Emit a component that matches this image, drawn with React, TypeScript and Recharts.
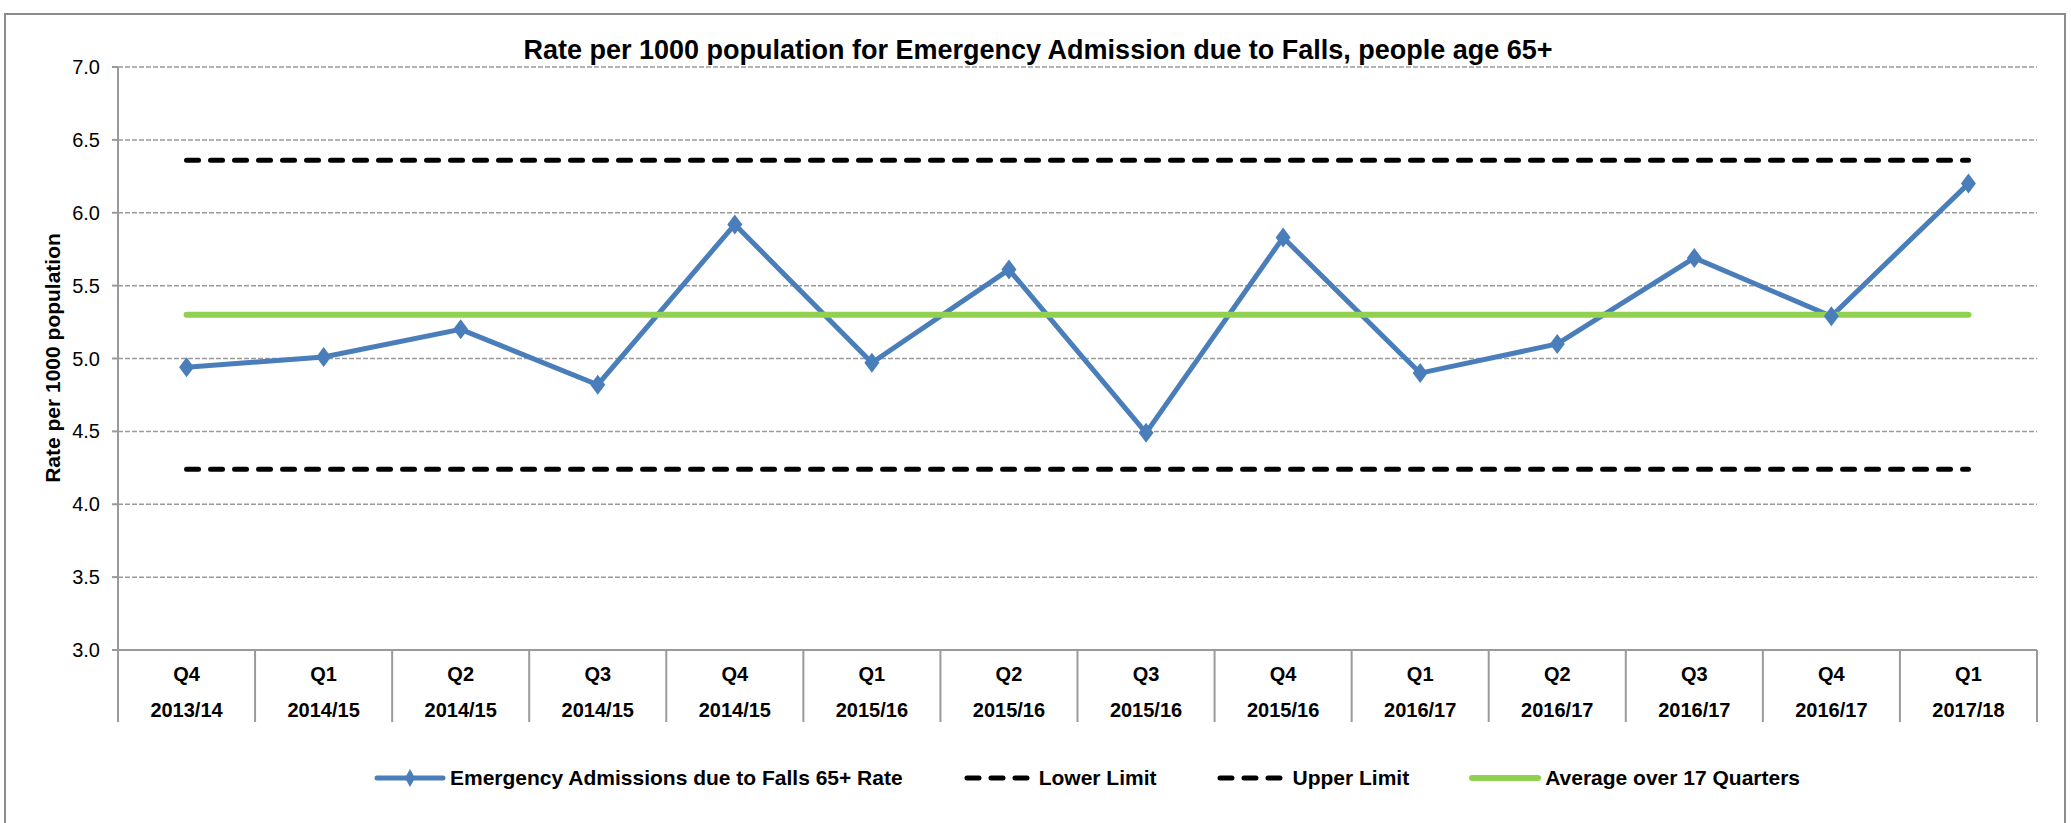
import React from 'react';
import { LineChart, Line, XAxis, YAxis, CartesianGrid, Legend } from 'recharts';

const QUARTERS = ['Q4', 'Q1', 'Q2', 'Q3', 'Q4', 'Q1', 'Q2', 'Q3', 'Q4', 'Q1', 'Q2', 'Q3', 'Q4', 'Q1'];
const YEARS = ['2013/14', '2014/15', '2014/15', '2014/15', '2014/15', '2015/16', '2015/16', '2015/16', '2015/16', '2016/17', '2016/17', '2016/17', '2016/17', '2017/18'];
const RATE = [4.94, 5.01, 5.2, 4.82, 5.92, 4.97, 5.61, 4.49, 5.83, 4.9, 5.1, 5.69, 5.29, 6.2];
const LOWER_LIMIT = 4.24;
const UPPER_LIMIT = 6.36;
const AVERAGE = 5.3;
const Y_TICKS = [3.0, 3.5, 4.0, 4.5, 5.0, 5.5, 6.0, 6.5, 7.0];
const TITLE = 'Rate per 1000 population for Emergency Admission due to Falls, people age 65+';
const Y_TITLE = 'Rate per 1000 population';
const NAME_RATE = 'Emergency Admissions due to Falls 65+ Rate';
const NAME_LOWER = 'Lower Limit';
const NAME_UPPER = 'Upper Limit';
const NAME_AVG = 'Average over 17 Quarters';
const LEGEND_ORDER = ['rate', 'lower', 'upper', 'avg'];

const data = QUARTERS.map((q, i) => ({
  period: `${q} ${YEARS[i]}`,
  rate: RATE[i],
  lower: LOWER_LIMIT,
  upper: UPPER_LIMIT,
  avg: AVERAGE,
}));

const FONT = '"Liberation Sans", Arial, sans-serif';
const BLUE = '#4A7EBB';
const GREEN = '#92D050';
const GRAY = '#9a9a9a';

const W = 2071;
const H = 823;
const MARGIN = { top: 67, right: 34, bottom: 83, left: 38 };
const Y_AXIS_W = 80;
const X_AXIS_H = 90;
const PLOT_W = W - MARGIN.left - MARGIN.right - Y_AXIS_W;
const BAND = PLOT_W / QUARTERS.length;

const XTick = (props: any) => {
  const { x, y, payload } = props;
  const i = payload.index;
  return (
    <g>
      <line x1={x - BAND / 2} x2={x - BAND / 2} y1={y} y2={y + 72} stroke={GRAY} strokeWidth={2} />
      {i === QUARTERS.length - 1 && (
        <line x1={x + BAND / 2} x2={x + BAND / 2} y1={y} y2={y + 72} stroke={GRAY} strokeWidth={2} />
      )}
      <text x={x} y={y + 24} textAnchor="middle" dominantBaseline="central" fontFamily={FONT} fontWeight="bold" fontSize={20} fill="#000">
        {QUARTERS[i]}
      </text>
      <text x={x} y={y + 60} textAnchor="middle" dominantBaseline="central" fontFamily={FONT} fontWeight="bold" fontSize={20} fill="#000">
        {YEARS[i]}
      </text>
    </g>
  );
};

const Diamond = (props: any) => {
  const { cx, cy, index } = props;
  if (cx == null || cy == null) return <g key={index} />;
  return (
    <path key={index} d={`M${cx},${cy - 10} L${cx + 7.5},${cy} L${cx},${cy + 10} L${cx - 7.5},${cy} Z`} fill={BLUE} />
  );
};

const Sample = ({ kind }: { kind: string }) => {
  if (kind === 'rate') {
    return (
      <svg width={72} height={24}>
        <line x1={3} x2={69} y1={12} y2={12} stroke={BLUE} strokeWidth={5} strokeLinecap="round" />
        <path d="M36,3 L41,12 L36,21 L31,12 Z" fill={BLUE} />
      </svg>
    );
  }
  if (kind === 'avg') {
    return (
      <svg width={72} height={24}>
        <line x1={3} x2={69} y1={12} y2={12} stroke={GREEN} strokeWidth={6} strokeLinecap="round" />
      </svg>
    );
  }
  return (
    <svg width={72} height={24}>
      <line x1={4} x2={66} y1={12} y2={12} stroke="#000" strokeWidth={5} strokeDasharray="12 12" strokeLinecap="round" />
    </svg>
  );
};

const renderLegend = (props: any) => {
  const payload = [...(props.payload || [])].sort(
    (a: any, b: any) => LEGEND_ORDER.indexOf(a.dataKey) - LEGEND_ORDER.indexOf(b.dataKey)
  );
  return (
    <div style={{ display: 'flex', alignItems: 'center', fontFamily: FONT, fontWeight: 'bold', fontSize: 21, color: '#000', whiteSpace: 'nowrap' }}>
      {payload.map((p: any, i: number) => (
        <div key={i} style={{ display: 'flex', alignItems: 'center', marginRight: i < payload.length - 1 ? 60 : 0 }}>
          <Sample kind={p.dataKey} />
          <span style={{ marginLeft: 4 }}>{p.value}</span>
        </div>
      ))}
    </div>
  );
};

export default function App() {
  return (
    <div style={{ position: 'absolute', left: 0, top: 0, width: W, height: H, overflow: 'hidden', background: '#fff', fontFamily: FONT }}>
      <div style={{ position: 'absolute', left: 4, top: 13, width: 2062, height: 900, border: '2px solid #8c8c8c', boxSizing: 'border-box' }} />
      <div style={{ position: 'absolute', left: 1038, top: 50, transform: 'translate(-50%, -50%)', whiteSpace: 'nowrap', fontWeight: 'bold', fontSize: 27, color: '#000' }}>
        {TITLE}
      </div>
      <div style={{ position: 'absolute', left: 53, top: 358, transform: 'translate(-50%, -50%) rotate(-90deg)', whiteSpace: 'nowrap', fontWeight: 'bold', fontSize: 21, color: '#000' }}>
        {Y_TITLE}
      </div>
      <div style={{ position: 'absolute', left: 0, top: 0 }}>
        <LineChart width={W} height={H} data={data} margin={MARGIN}>
          <CartesianGrid vertical={false} stroke={GRAY} strokeDasharray="5 2" strokeWidth={1.5} />
          <XAxis
            dataKey="period"
            scale="band"
            interval={0}
            height={X_AXIS_H}
            tickLine={false}
            tickSize={0}
            tickMargin={0}
            axisLine={{ stroke: GRAY, strokeWidth: 2 }}
            tick={<XTick />}
          />
          <YAxis
            type="number"
            domain={[3, 7]}
            ticks={Y_TICKS}
            interval={0}
            width={Y_AXIS_W}
            tickSize={6}
            tickMargin={12}
            tickFormatter={(v: number) => v.toFixed(1)}
            axisLine={{ stroke: GRAY, strokeWidth: 2 }}
            tickLine={{ stroke: GRAY, strokeWidth: 2 }}
            tick={{ fontFamily: FONT, fontSize: 20, fill: '#000' }}
          />
          <Line
            dataKey="rate"
            name={NAME_RATE}
            stroke={BLUE}
            strokeWidth={5}
            dot={Diamond}
            activeDot={false}
            isAnimationActive={false}
          />
          <Line
            dataKey="lower"
            name={NAME_LOWER}
            stroke="#000"
            strokeWidth={5}
            strokeDasharray="12 12"
            strokeLinecap="round"
            dot={false}
            activeDot={false}
            isAnimationActive={false}
          />
          <Line
            dataKey="upper"
            name={NAME_UPPER}
            stroke="#000"
            strokeWidth={5}
            strokeDasharray="12 12"
            strokeLinecap="round"
            dot={false}
            activeDot={false}
            isAnimationActive={false}
          />
          <Line
            dataKey="avg"
            name={NAME_AVG}
            stroke={GREEN}
            strokeWidth={6}
            strokeLinecap="round"
            dot={false}
            activeDot={false}
            isAnimationActive={false}
          />
          <Legend
            layout="horizontal"
            verticalAlign="middle"
            align="center"
            content={renderLegend}
            wrapperStyle={{ position: 'absolute', left: 374, top: 766, width: 'auto', height: 30 }}
          />
        </LineChart>
      </div>
    </div>
  );
}
